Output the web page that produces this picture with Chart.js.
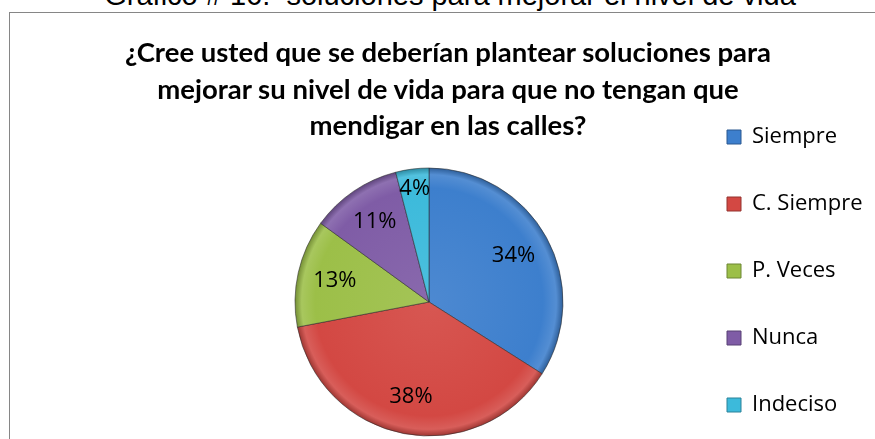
<!DOCTYPE html>
<html>
<head>
<meta charset="utf-8">
<title>Gráfico # 16</title>
<script src="https://cdn.jsdelivr.net/npm/chart.js@4.4.1/dist/chart.umd.min.js"></script>
<style>
  html, body { margin: 0; padding: 0; background: #fff; width: 875px; height: 439px; overflow: hidden; }
  #caption { position: absolute; left: 0; top: -19px; width: 900px; text-align: center; white-space: pre;
             font: 29px 'Liberation Sans', Arial, sans-serif; line-height: 29px; color: #000; }
  #marco { position: absolute; left: 9px; top: 12px; width: 900px; height: 500px; border: 1px solid #868686; background: transparent; }
  #titulo { position: absolute; left: 0; top: 34px; width: 896px; text-align: center; z-index: 2;
            font: bold 27.5px Lato, 'Open Sans', sans-serif; line-height: 36.5px; color: #000; }
  #grafico { position: absolute; left: 0; top: 81px; width: 875px; height: 442px; }
</style>
</head>
<body>
<div id="caption">Gráfico # 16:  soluciones para mejorar el nivel de vida</div>
<div id="marco"></div>
<div id="titulo">¿Cree usted que se deberían plantear soluciones para<br>mejorar su nivel de vida para que no tengan que<br>mendigar en las calles?</div>
<div id="grafico"><canvas id="pieChart"></canvas></div>
<script>
// datos
const categorias = ['Siempre', 'C. Siempre', 'P. Veces', 'Nunca', 'Indeciso'];
const porcentajes = [34, 38, 13, 11, 4];
const colores = ['#3d7fcd', '#d34843', '#9cbf48', '#7f5ca6', '#3cbadb'];

// aclara (f > 0) u oscurece (f < 0) un color hex
function mezcla(hex, f) {
    const n = parseInt(hex.slice(1), 16);
    const c = [(n >> 16) & 255, (n >> 8) & 255, n & 255].map(v => {
        const t = f < 0 ? 0 : 255;
        return Math.round(v + (t - v) * Math.abs(f));
    });
    return `rgb(${c[0]}, ${c[1]}, ${c[2]})`;
}

// relleno con un poco de relieve, como el original de Excel
function sombreado(context) {
    const base = colores[context.dataIndex];
    const chart = context.chart;
    const area = chart.chartArea;
    if (!area) return base;
    const cx = (area.left + area.right) / 2;
    const cy = (area.top + area.bottom) / 2;
    const g = chart.ctx.createRadialGradient(cx, cy, 0, cx, cy, 134);
    g.addColorStop(0, mezcla(base, 0.08));
    g.addColorStop(0.85, base);
    g.addColorStop(0.95, mezcla(base, 0.12));
    g.addColorStop(1, mezcla(base, -0.25));
    return g;
}

// porcentajes dentro de cada porción
const etiquetas = {
    id: 'etiquetas',
    afterDatasetsDraw(chart) {
        const { ctx } = chart;
        const meta = chart.getDatasetMeta(0);
        ctx.save();
        ctx.font = '22px "Open Sans"';
        ctx.fillStyle = '#000';
        ctx.textAlign = 'center';
        ctx.textBaseline = 'middle';
        meta.data.forEach((arc, i) => {
            const { x, y, startAngle, endAngle, outerRadius } =
                arc.getProps(['x', 'y', 'startAngle', 'endAngle', 'outerRadius'], true);
            const medio = (startAngle + endAngle) / 2;
            const f = porcentajes[i] < 6 ? 0.85 : 0.72;
            ctx.fillText(porcentajes[i] + '%',
                x + Math.cos(medio) * outerRadius * f,
                y + Math.sin(medio) * outerRadius * f);
        });
        ctx.restore();
    }
};

function initPie() {
    const canvas = document.getElementById('pieChart');
    new Chart(canvas.getContext('2d'), {
        type: 'pie',
        data: {
            labels: categorias,
            datasets: [{
                data: porcentajes,
                backgroundColor: sombreado,
                borderColor: 'rgba(40, 40, 40, 0.55)',
                borderWidth: 1,
                radius: 134
            }]
        },
        options: {
            responsive: true,
            maintainAspectRatio: false,
            animation: false,
            events: [],
            layout: { padding: { left: 176, right: 13, top: 0, bottom: 0 } },
            plugins: {
                tooltip: { enabled: false },
                title: { display: false },
                legend: {
                    position: 'right',
                    align: 'start',
                    maxWidth: 180,
                    labels: {
                        boxWidth: 14,
                        boxHeight: 14,
                        padding: 45,
                        color: '#000',
                        font: { family: 'Open Sans', size: 22 },
                        generateLabels(chart) {
                            const items = Chart.overrides.pie.plugins.legend.labels.generateLabels(chart);
                            items.forEach((item, i) => {
                                item.fillStyle = colores[i];
                                item.strokeStyle = mezcla(colores[i], -0.3);
                                item.lineWidth = 1;
                            });
                            return items;
                        }
                    }
                }
            }
        },
        plugins: [etiquetas]
    });
}

if (document.readyState === 'complete') {
    initPie();
} else {
    window.addEventListener('load', initPie);
}
</script>
</body>
</html>
